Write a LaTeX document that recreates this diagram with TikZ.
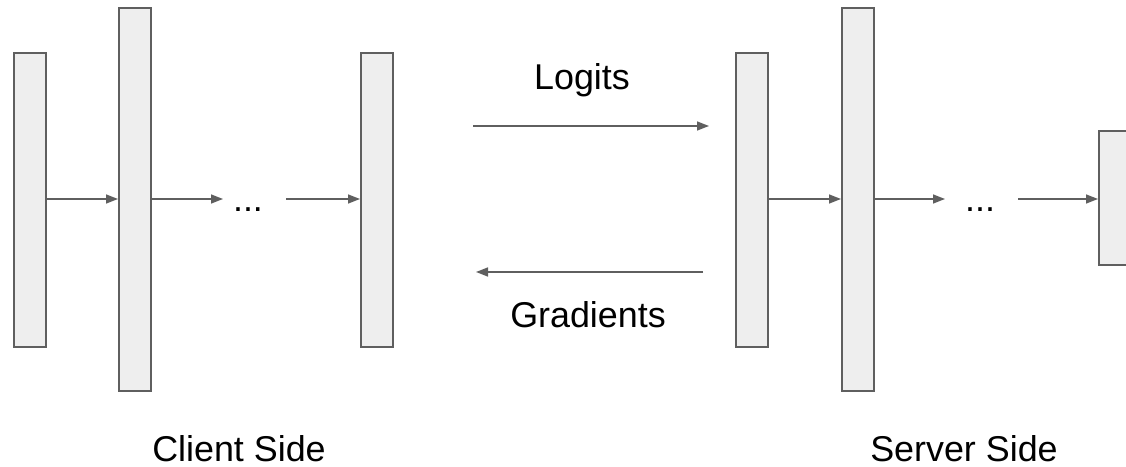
\documentclass[tikz,border=0pt]{standalone}
\usepackage{fontspec}
\setmainfont{Liberation Sans}
\usetikzlibrary{arrows.meta}
\definecolor{layerfill}{HTML}{EEEEEE}
\definecolor{layerline}{HTML}{5F5F5F}
\tikzset{
  layer/.style={draw=layerline, fill=layerfill, line width=2bp, minimum width=32bp, inner sep=0pt},
  short/.style={layer, minimum height=294bp},
  tall/.style={layer, minimum height=383bp},
  flow/.style={draw=layerline, line width=1.5bp, -{Triangle[length=12bp,width=9bp]}},
  label/.style={font=\fontsize{36}{40}\selectfont, inner sep=0pt},
  dots/.style={font=\fontsize{36}{40}\selectfont, inner sep=0pt, anchor=base}
}
\begin{document}
\begin{tikzpicture}[x=1bp, y=-1bp]
\useasboundingbox (0,0) rectangle (1126,467);
\clip (0,0) rectangle (1126,467);

% client-side layers
\node[short] (c1) at (30,200) {};
\node[tall]  (c2) at (135,199.5) {};
\node[short] (c3) at (377,200) {};

% server-side layers
\node[short] (s1) at (752,200) {};
\node[tall]  (s2) at (858,199.5) {};
\node[layer, minimum width=42bp, minimum height=134bp] (s3) at (1120,198.5) {};

% ellipses between layers
\node[dots] (d1) at (248,212) {...};
\node[dots] (d2) at (980,212) {...};

\coordinate (d1in)  at (223,199);
\coordinate (d1out) at (286,199);
\coordinate (d2in)  at (945,199);
\coordinate (d2out) at (1018,199);

% forward pass inside each side
\draw[flow] (c1.east |- 0,199) -- (c2.west |- 0,199);
\draw[flow] (c2.east |- 0,199) -- (d1in);
\draw[flow] (d1out) -- (c3.west |- 0,199);
\draw[flow] (s1.east |- 0,199) -- (s2.west |- 0,199);
\draw[flow] (s2.east |- 0,199) -- (d2in);
\draw[flow] (d2out) -- (s3.west |- 0,199);

% exchange between client and server
\coordinate (lgA) at (473,126);
\coordinate (lgB) at (709,126);
\coordinate (grA) at (703,272);
\coordinate (grB) at (476,272);
\draw[flow] (lgA) -- (lgB);
\draw[flow] (grA) -- (grB);

\node[label, anchor=base] (logits) at (582,90) {Logits};
\node[label, anchor=base] (grads) at (588,328) {Gradients};
\node[label, anchor=base] (client) at (239,461) {Client Side};
\node[label, anchor=base] (server) at (964,461) {Server Side};
\end{tikzpicture}
\end{document}
